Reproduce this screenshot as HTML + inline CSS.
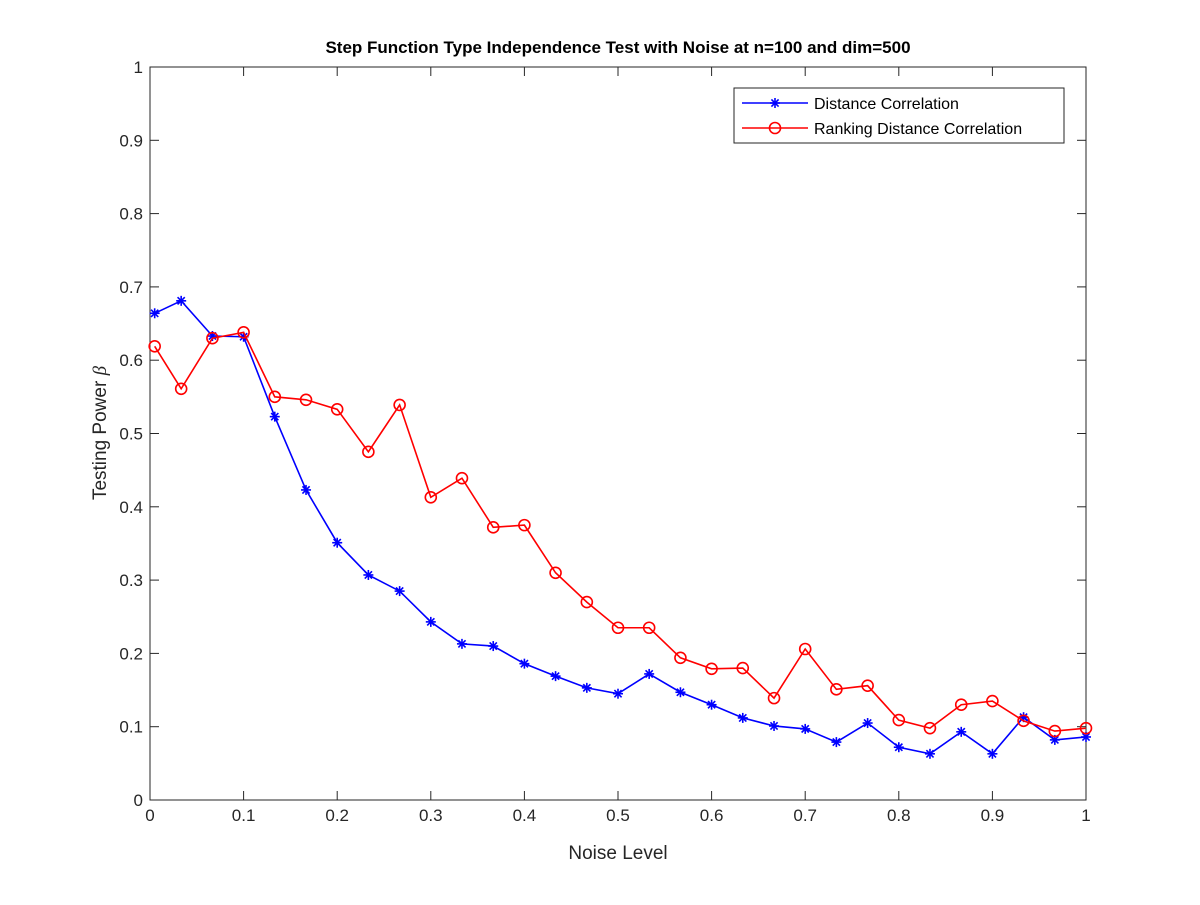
<!DOCTYPE html>
<html><head><meta charset="utf-8"><style>
body{margin:0;background:#fff;}
svg text{font-family:"Liberation Sans",Arial,sans-serif;}
</style></head><body>
<svg id="chart" width="1200" height="900">
<rect width="1200" height="900" fill="#fff"/>
<g id="plot"></g>
</svg>
<script>
const xValues=[0.005,0.0333,0.0667,0.1,0.1333,0.1667,0.2,0.2333,0.2667,0.3,0.3333,0.3667,0.4,0.4333,0.4667,0.5,0.5333,0.5667,0.6,0.6333,0.6667,0.7,0.7333,0.7667,0.8,0.8333,0.8667,0.9,0.9333,0.9667,1.0];
const dcorValues=[0.664,0.681,0.633,0.632,0.523,0.423,0.351,0.307,0.285,0.243,0.213,0.210,0.186,0.169,0.153,0.145,0.172,0.147,0.130,0.112,0.101,0.097,0.079,0.105,0.072,0.063,0.093,0.063,0.113,0.082,0.086];
const rdcorValues=[0.619,0.561,0.630,0.638,0.550,0.546,0.533,0.475,0.539,0.413,0.439,0.372,0.375,0.310,0.270,0.235,0.235,0.194,0.179,0.180,0.139,0.206,0.151,0.156,0.109,0.098,0.130,0.135,0.108,0.094,0.098];
const xTicks=[0,0.1,0.2,0.3,0.4,0.5,0.6,0.7,0.8,0.9,1];
const yTicks=[0,0.1,0.2,0.3,0.4,0.5,0.6,0.7,0.8,0.9,1];
const L=150,R=1086,T=67,B=800;
const sx=v=>L+v*(R-L), sy=v=>B-v*(B-T);
const NS='http://www.w3.org/2000/svg';
const svg=document.getElementById('chart');
function mk(tag,attrs,parent,text){const e=document.createElementNS(NS,tag);for(const k in attrs)e.setAttribute(k,attrs[k]);if(text!==undefined)e.textContent=text;(parent||svg).appendChild(e);return e;}
const g=document.getElementById('plot');
let box=mk('rect',{x:L,y:T,width:R-L,height:B-T,fill:'none',stroke:'#262626','stroke-width':1},g);


xTicks.forEach(t=>{const x=sx(t);
mk('line',{x1:x,x2:x,y1:B,y2:B-9,stroke:'#262626'},g);
mk('line',{x1:x,x2:x,y1:T,y2:T+9,stroke:'#262626'},g);
const tx=mk('text',{x:x,y:B+21,'text-anchor':'middle','font-size':17,fill:'#262626'},g,String(t));

});
yTicks.forEach(t=>{const y=sy(t);
mk('line',{x1:L,x2:L+9,y1:y,y2:y,stroke:'#262626'},g);
mk('line',{x1:R,x2:R-9,y1:y,y2:y,stroke:'#262626'},g);
const ty=mk('text',{x:L-7,y:y+6,'text-anchor':'end','font-size':17,fill:'#262626'},g,String(t));

});
function drawMarker(x,y,color,marker,name,parent){
let m;
if(marker==='o'){m=mk('circle',{cx:x,cy:y,r:5.5,fill:'none',stroke:color,'stroke-width':1.6},parent);}
else{m=mk('g',{stroke:color,'stroke-width':1.6},parent);
mk('line',{x1:x-5,x2:x+5,y1:y,y2:y},m);mk('line',{x1:x,x2:x,y1:y-5,y2:y+5},m);
mk('line',{x1:x-3.6,x2:x+3.6,y1:y-3.6,y2:y+3.6},m);mk('line',{x1:x-3.6,x2:x+3.6,y1:y+3.6,y2:y-3.6},m);}

}
function series(vals,color,marker,name){
const pl=mk('polyline',{points:vals.map((v,i)=>sx(xValues[i])+','+sy(v)).join(' '),fill:'none',stroke:color,'stroke-width':1.6},g);


vals.forEach((v,i)=>drawMarker(sx(xValues[i]),sy(v),color,marker,name,g));}
series(dcorValues,'#0000ff','*','dcor');
series(rdcorValues,'#ff0000','o','rdcor');
let tt=mk('text',{x:618,y:53,'text-anchor':'middle','font-size':17,'font-weight':'bold',fill:'#000'},svg,'Step Function Type Independence Test with Noise at n=100 and dim=500');

let xl=mk('text',{x:618,y:859,'text-anchor':'middle','font-size':19,fill:'#262626'},svg,'Noise Level');

let yl=mk('text',{x:0,y:0,'text-anchor':'middle','font-size':19,fill:'#262626',transform:'translate(106,433) rotate(-90)'},svg,'Testing Power ');
mk('tspan',{'font-style':'italic','font-family':'"Liberation Serif",serif'},yl,'β');

const lg=mk('g',{},svg);

mk('rect',{x:734,y:88,width:330,height:55,fill:'#fff',stroke:'#262626'},lg);
mk('line',{x1:742,x2:808,y1:103,y2:103,stroke:'#0000ff','stroke-width':1.6},lg);
mk('line',{x1:742,x2:808,y1:128,y2:128,stroke:'#ff0000','stroke-width':1.6},lg);
drawMarker(775,103,'#0000ff','*','legend-dcor',lg);
drawMarker(775,128,'#ff0000','o','legend-rdcor',lg);
let l1=mk('text',{x:814,y:109,'font-size':16,fill:'#000'},lg,'Distance Correlation');

let l2=mk('text',{x:814,y:134,'font-size':16,fill:'#000'},lg,'Ranking Distance Correlation');

</script>
</body></html>
